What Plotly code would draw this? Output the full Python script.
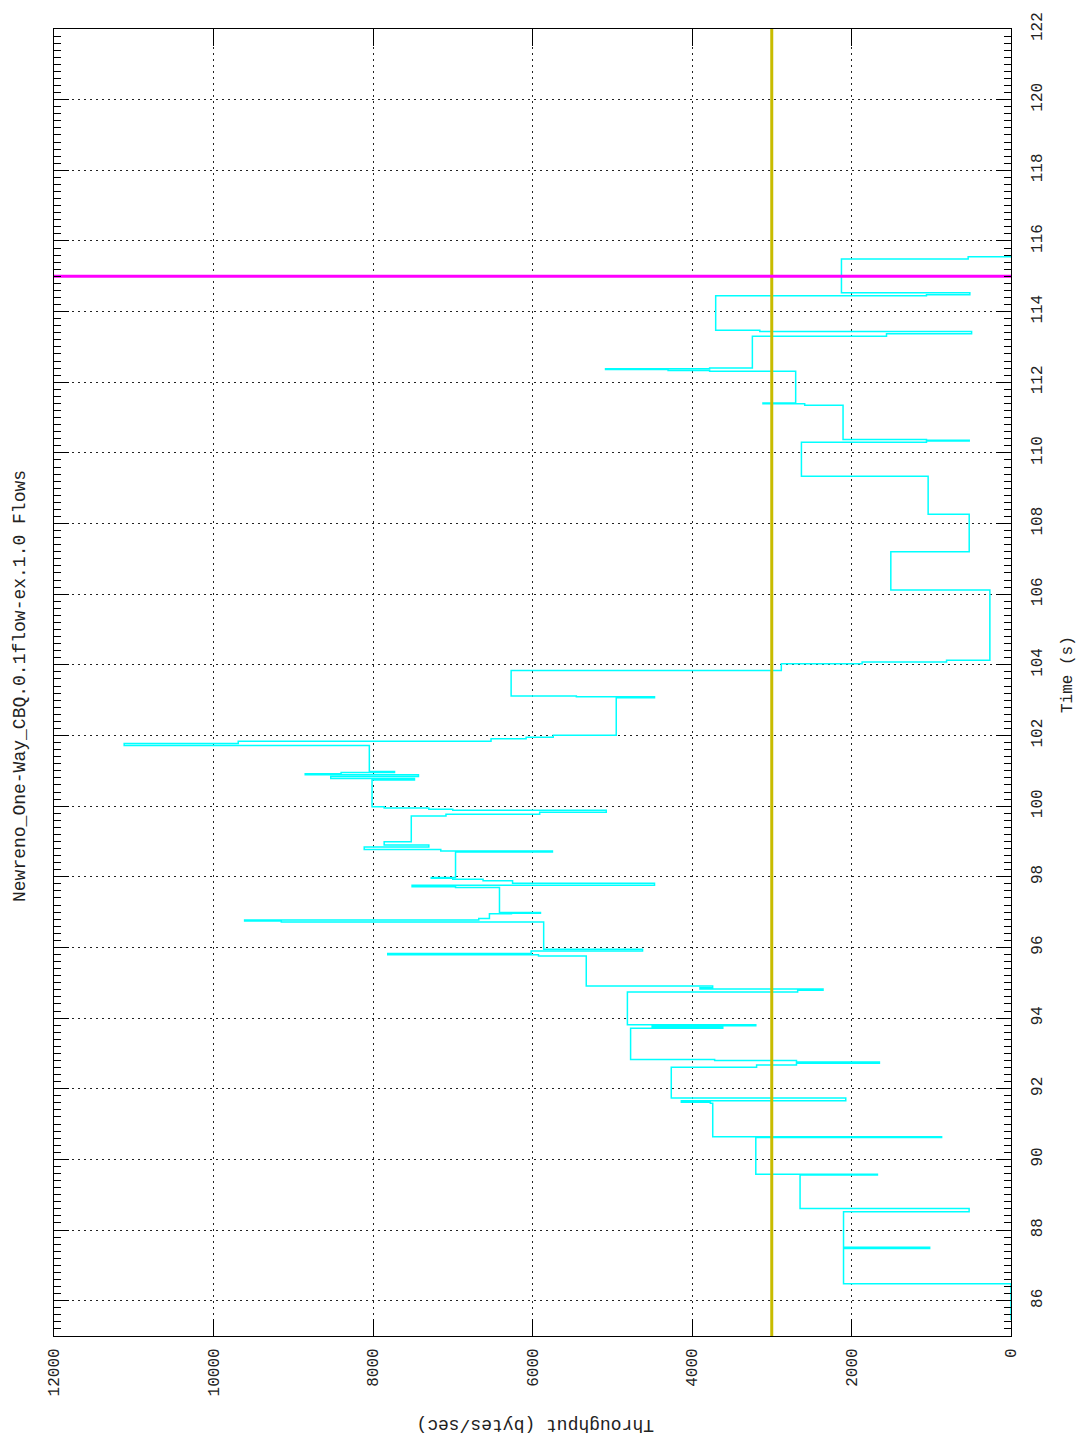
import plotly.graph_objects as go

# Throughput trace (time in s, throughput in bytes/sec) - value changes at each time
times = [85.45, 86.48, 87.48, 87.51, 88.52, 88.61, 89.56, 89.58, 90.62, 90.64,
         91.59, 91.62, 91.66, 91.74, 92.61, 92.67, 92.72, 92.76, 92.80, 92.83,
         93.71, 93.74, 93.78, 93.81, 94.74, 94.79, 94.82, 94.86, 94.91,
         95.76, 95.79, 95.83, 95.90, 95.95,
         96.72, 96.75, 96.78, 96.82, 96.95, 96.97, 96.99,
         97.70, 97.72, 97.76, 97.82, 97.89, 97.93, 97.96, 97.98,
         98.70, 98.73, 98.77, 98.84, 98.90, 98.99,
         99.72, 99.77, 99.83, 99.88, 99.91, 99.95, 99.98,
         100.74, 100.78, 100.84, 100.89, 100.92, 100.95, 100.98,
         101.72, 101.77, 101.84, 101.91, 101.95, 102.01,
         103.07, 103.10, 103.12, 103.84, 104.03, 104.08, 104.13,
         106.12, 107.20, 108.26, 109.34,
         110.30, 110.34, 110.36, 110.38,
         111.35, 111.39, 111.41,
         112.31, 112.33, 112.36, 112.38, 112.40,
         113.30, 113.37, 113.44, 113.47,
         114.45, 114.48, 114.53,
         115.49, 115.55]
throughput = [0, 2100, 1020, 2100, 525, 2645, 1675, 3200, 870, 3740,
              3770, 4134, 2072, 4260, 3190, 2690, 1650, 2690, 3716, 4770,
              3614, 4500, 3200, 4810, 2675, 2357, 3900, 3741, 5326,
              5925, 7815, 6017, 4620, 5860,
              9150, 9610, 6674, 6540, 6264, 5900, 6414,
              6965, 7510, 4470, 6250, 6620, 7000, 7270, 6965,
              5750, 7150, 8110, 7300, 7860, 7520,
              7085, 5910, 5075, 7000, 7300, 7860, 8012,
              7480, 8530, 7430, 8850, 8400, 7730, 8046,
              11120, 9690, 6520, 6080, 5740, 4950,
              4470, 5450, 6268, 2880, 1867, 808, 265,
              1507, 524, 1039, 2628,
              1060, 524, 1060, 2106,
              2587, 3110, 2700,
              3779, 4300, 5084, 3779, 3243,
              1561, 494, 3150, 3703,
              1060, 516, 2126,
              537, 0]

marker_time = 115          # magenta horizontal line
ref_throughput = 3000      # olive vertical line

time_range = [85, 122]
tput_range = [12000, 0]
time_ticks = list(range(86, 123, 2))
tput_ticks = list(range(0, 12001, 2000))

title_text = "Newreno_One-Way_CBQ.0.1flow-ex.1.0 Flows"
x_title = "Throughput (bytes/sec)"
y_title = "Time (s)"

FONT = "Liberation Mono"

fig = go.Figure()
fig.add_trace(go.Scatter(x=throughput, y=times, mode="lines",
                         line=dict(color="#00FFFF", width=1.5, shape="vh"),
                         showlegend=False))
fig.add_trace(go.Scatter(x=[ref_throughput, ref_throughput], y=time_range, mode="lines",
                         line=dict(color="#C8BC00", width=3), showlegend=False))
fig.add_trace(go.Scatter(x=list(tput_range), y=[marker_time, marker_time], mode="lines",
                         line=dict(color="#FF00FF", width=3), showlegend=False))

fig.update_layout(
    width=1081, height=1442,
    margin=dict(l=54, r=70, t=29, b=106, pad=0),
    paper_bgcolor="white", plot_bgcolor="white",
    font=dict(family=FONT, size=16, color="#222"),
    xaxis=dict(range=tput_range, tickvals=tput_ticks, ticktext=[str(v) for v in tput_ticks],
               tickangle=-90, ticks="inside", ticklen=17, tickcolor="black",
               showline=True, linecolor="black", linewidth=1, mirror="ticks",
               showgrid=True, gridcolor="#222", gridwidth=1, griddash="2px,4px",
               zeroline=False, tickfont=dict(family=FONT, size=16, color="#222"),
               ticklabelstandoff=5),
    yaxis=dict(range=time_range, tickvals=time_ticks, ticktext=[str(v) for v in time_ticks],
               side="right", tickangle=-90, ticks="inside", ticklen=15, tickcolor="black",
               showline=True, linecolor="black", linewidth=1, mirror="ticks",
               showgrid=True, gridcolor="#222", gridwidth=1, griddash="2px,4px",
               zeroline=False, tickfont=dict(family=FONT, size=16, color="#222"),
               minor=dict(dtick=0.2, tick0=85, ticks="inside", ticklen=7,
                          tickcolor="black", showgrid=False),
               ticklabelstandoff=11),
    annotations=[
        dict(text=title_text, xref="paper", yref="paper", x=(20 - 54) / 957, y=(1336 - 686) / 1307,
             xanchor="center", yanchor="middle",
             textangle=-90, showarrow=False, font=dict(family=FONT, size=18, color="#222")),
        dict(text=y_title, xref="paper", yref="paper", x=(1068 - 54) / 957, y=(1336 - 675) / 1307,
             xanchor="center", yanchor="middle",
             textangle=-90, showarrow=False, font=dict(family=FONT, size=16, color="#222")),
        dict(text=x_title, xref="paper", yref="paper", x=(535 - 54) / 957, y=(1336 - 1425) / 1307,
             xanchor="center", yanchor="middle",
             textangle=180, showarrow=False, font=dict(family=FONT, size=18, color="#222")),
    ],
)

fig.write_html("out.html")
